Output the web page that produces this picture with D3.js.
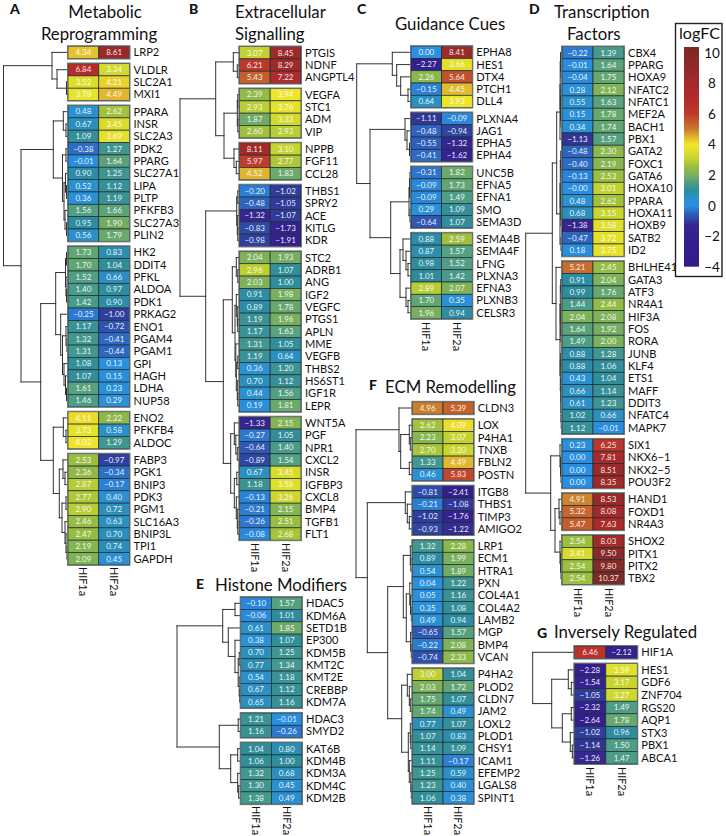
<!DOCTYPE html>
<html><head><meta charset="utf-8">
<script src="https://cdn.jsdelivr.net/npm/d3@7"></script>
<style>html,body{margin:0;padding:0;background:#fff}svg{display:block}</style>
</head><body><svg id="c" width="726" height="836"></svg>
<script>
// ---------- data: one set of small arrays per panel ----------
const genesA=["LRP2","VLDLR","SLC2A1","MXI1","PPARA","INSR","SLC2A3","PDK2","PPARG","SLC27A1","LIPA","PLTP","PFKFB3","SLC27A3","PLIN2","HK2","DDIT4","PFKL","ALDOA","PDK1","PRKAG2","ENO1","PGAM4","PGAM1","GPI","HAGH","LDHA","NUP58","ENO2","PFKFB4","ALDOC","FABP3","PGK1","BNIP3","PDK3","PGM1","SLC16A3","BNIP3L","TPI1","GAPDH"];
const hif1A=[4.34,6.84,3.52,3.78,0.48,0.67,1.09,-0.38,-0.01,0.90,0.52,0.36,1.56,0.95,0.56,1.73,1.70,1.52,1.40,1.42,-0.25,1.17,1.32,1.31,1.08,1.07,1.61,1.46,4.11,3.73,4.02,2.53,2.36,2.87,2.77,2.90,2.46,2.47,2.19,2.09];
const hif2A=[8.61,3.34,4.21,4.49,2.62,3.45,3.69,1.27,1.64,1.25,1.12,1.19,1.66,1.90,1.79,0.83,1.04,0.66,0.97,0.90,-1.00,-0.72,-0.41,-0.44,0.13,0.15,0.23,0.29,2.32,0.58,1.29,-0.97,-0.34,-0.17,0.40,0.72,0.63,0.70,0.74,0.45];
const groupsA=[1,3,11,13,3,9];
const treeA=[64.5,[16,0,[11,1,[1.5,2,3]]],[47,[14.7,[4.7,4,[2,5,6]],[5.5,[2,7,8],[4,[2.5,9,[1.5,10,11]],[3,12,[1.5,13,14]]]]],[27.3,[12.3,[2.5,[1.5,15,16],[2,17,[1.5,18,19]]],[7.3,20,[5.5,[2,21,[1,22,23]],[4,24,[2.5,25,[1.5,26,27]]]]]],[14.7,[4.7,28,[2,29,30]],[8.7,[5,31,[3,32,33]],[6,[2,34,35],[3,36,[2,37,[1,38,39]]]]]]]]];

const genesB=["PTGIS","NDNF","ANGPTL4","VEGFA","STC1","ADM","VIP","NPPB","FGF11","CCL28","THBS1","SPRY2","ACE","KITLG","KDR","STC2","ADRB1","ANG","IGF2","VEGFC","PTGS1","APLN","MME","VEGFB","THBS2","HS6ST1","IGF1R","LEPR","WNT5A","PGF","NPR1","CXCL2","INSR","IGFBP3","CXCL8","BMP4","TGFB1","FLT1"];
const hif1B=[3.07,6.21,5.43,2.39,2.93,1.87,2.60,8.11,5.97,4.52,-0.20,-0.48,-1.32,-0.83,-0.98,2.04,2.96,2.03,0.91,0.89,1.19,1.17,1.31,1.19,0.36,0.70,0.44,0.19,-1.33,-0.27,-0.64,-0.89,0.67,1.18,-0.13,-0.21,-0.26,-0.08];
const hif2B=[8.45,8.29,7.22,3.94,3.76,3.33,2.93,3.10,2.77,1.83,-1.02,-1.05,-1.07,-1.73,-1.91,1.93,1.07,1.00,1.98,1.78,1.96,1.63,1.05,0.64,1.20,1.12,1.56,1.81,2.15,1.05,1.40,1.54,3.45,3.58,3.26,2.15,2.51,2.68];
const groupsB=[3,4,3,5,13,10];
const treeB=[59.3,[23.6,[6,0,[2,1,2]],[15.3,[2,[1.5,3,4],[1.5,5,6]],[5.3,7,[3,8,9]]]],[33.6,[2.6,[1.5,10,11],[2,12,[1.5,13,14]]],[16,[7,[3,15,[1.5,16,17]],[4.3,[3,18,[2,19,[1.5,20,21]]],[3.5,22,[3,[1.5,23,24],[2,25,[1.5,26,27]]]]]],[8.6,[5,28,[3.5,29,[2,30,31]]],[5,[2.5,32,33],[3,34,[2,35,[1.5,36,37]]]]]]]];

const genesC=["EPHA8","HES1","DTX4","PTCH1","DLL4","PLXNA4","JAG1","EPHA5","EPHA4","UNC5B","EFNA5","EFNA1","SMO","SEMA3D","SEMA4B","SEMA4F","LFNG","PLXNA3","EFNA3","PLXNB3","CELSR3"];
const hif1C=[0.00,-2.27,2.26,-0.15,0.64,-1.11,-0.48,-0.55,-0.41,-0.31,-0.09,-0.09,0.29,-0.64,0.88,0.87,0.98,1.01,2.89,1.70,1.96];
const hif2C=[8.41,3.66,5.64,4.45,3.93,-0.09,-0.94,-1.32,-1.62,1.82,1.73,1.49,1.09,1.07,2.59,1.57,1.52,1.42,2.07,0.35,0.94];
const groupsC=[5,4,5,7];
const treeC=[54.3,[18.7,0,[14.3,1,[10.3,2,[3,3,4]]]],[41,[6,5,[4,6,[1.5,7,8]]],[20.3,[2,[1.5,[1,9,10],11],[1,12,13]],[11,[8,14,[5,15,[3,16,17]]],[5,18,[3,19,20]]]]]];

const genesD=["CBX4","PPARG","HOXA9","NFATC2","NFATC1","MEF2A","BACH1","PBX1","GATA2","FOXC1","GATA6","HOXA10","PPARA","HOXA11","HOXB9","SATB2","ID2","BHLHE41","GATA3","ATF3","NR4A1","HIF3A","FOS","RORA","JUNB","KLF4","ETS1","MAFF","DDIT3","NFATC4","MAPK7","SIX1","NKX6−1","NKX2−5","POU3F2","HAND1","FOXD1","NR4A3","SHOX2","PITX1","PITX2","TBX2"];
const hif1D=[-0.22,-0.01,-0.04,0.28,0.55,0.15,0.34,-1.13,-0.48,-0.40,-0.13,-0.00,0.48,0.68,-1.38,-0.47,0.18,5.21,0.91,0.99,1.44,2.04,1.64,1.49,0.88,0.88,0.43,0.66,0.61,1.02,1.12,0.23,0.00,0.00,0.00,4.91,5.32,5.47,2.54,3.41,2.54,2.54];
const hif2D=[1.39,1.64,1.75,2.12,1.63,1.78,1.74,1.57,2.30,2.19,2.53,3.01,2.62,3.15,3.58,3.72,3.75,2.45,2.04,1.76,2.44,2.08,1.92,2.00,1.28,1.06,1.04,1.14,1.23,0.66,-0.01,6.25,7.81,8.51,8.35,8.53,8.08,7.63,8.03,9.50,9.80,10.37];
const groupsD=[17,14,4,3,4];
const treeD=[36.3,[9.7,[5.3,[2,[1.8,[1.5,0,[1,1,2]],[1.5,[1,3,4],[1,5,6]]],7],[2,[1.7,[1.3,8,[1,9,10]],[1.3,[1,11,12],[1,13,14]]],[1,15,16]]],[6,17,[2,[1.7,[1.3,18,19],[1.3,[1,20,21],[1,22,23]]],[1.7,[1.3,24,25],[1.3,26,[1,27,[1,28,[0.8,29,30]]]]]]]],[11.3,[2,31,[1.5,32,[1,33,34]]],[7,[3,35,[2,36,37]],[2,38,[1.5,39,[1,40,41]]]]]];

const genesE=["HDAC5","KDM6A","SETD1B","EP300","KDM5B","KMT2C","KMT2E","CREBBP","KDM7A","HDAC3","SMYD2","KAT6B","KDM4B","KDM3A","KDM4C","KDM2B"];
const hif1E=[-0.10,-0.06,0.61,0.38,0.70,0.77,0.54,0.67,0.65,1.21,1.16,1.04,1.06,1.32,1.30,1.38];
const hif2E=[1.57,1.01,1.85,1.07,1.25,1.34,1.18,1.12,1.16,-0.01,-0.26,0.80,1.00,0.68,0.45,0.49];
const groupsE=[9,2,5];
const treeE=[63.7,[18,[5.7,0,1],[12.4,2,[5.7,3,[2.5,[1.5,4,5],[1.5,6,[1,7,8]]]]]],[21.4,[2.5,9,10],[10,[3,11,12],[3,13,[2,14,15]]]]];

const genesF=["CLDN3","LOX","P4HA1","TNXB","FBLN2","POSTN","ITGB8","THBS1","TIMP3","AMIGO2","LRP1","ECM1","HTRA1","PXN","COL4A1","COL4A2","LAMB2","MGP","BMP4","VCAN","P4HA2","PLOD2","CLDN7","JAM2","LOXL2","PLOD1","CHSY1","ICAM1","EFEMP2","LGALS8","SPINT1"];
const hif1F=[4.96,2.62,2.23,2.70,1.33,0.46,-0.81,-0.21,-1.02,-0.93,1.32,0.89,0.54,0.04,0.05,0.35,0.49,-0.65,-0.22,-0.74,3.00,2.03,1.75,1.74,0.77,1.07,1.14,1.11,1.25,1.23,1.06];
const hif2F=[5.39,4.09,3.07,3.20,4.49,5.83,-2.41,-1.08,-1.76,-1.22,2.28,1.99,1.89,1.22,1.16,1.08,0.94,1.57,2.08,2.33,1.04,1.72,1.07,0.49,1.07,0.83,1.09,-0.17,0.59,0.40,0.38];
const groupsF=[1,5,4,10,11];
const treeF=[56.3,[13.3,0,[11.6,[3,1,[2,2,3]],[3,4,5]]],[45,[7,6,[5,7,[3,8,9]]],[24.6,[9,[2,10,[1.5,11,12]],[6,[2.5,13,[1.8,14,[1,15,16]]],[1.7,17,[1,18,19]]]],[10.6,[5,20,[3,21,[2,22,23]]],[4,[2,24,[1.5,25,26]],[3,27,[1.5,28,[1,29,30]]]]]]]];

const genesG=["HIF1A","HES1","GDF6","ZNF704","RGS20","AQP1","STX3","PBX1","ABCA1"];
const hif1G=[6.46,-2.28,-1.54,-1.05,-2.32,-2.64,-1.02,-1.14,-1.26];
const hif2G=[-2.12,3.59,3.17,3.27,1.49,1.78,0.96,1.50,1.47];
const groupsG=[1,8];
const treeG=[41.6,0,[22.6,[6,1,[3,2,3]],[12,[3,4,5],[4,6,[2,7,8]]]]];

const conditions=["HIF1a","HIF2a"];
const legendTicks=[-4,-2,0,2,4,6,8,10];
const colorStops=[-4,-2,-1.3,-1,-0.5,0,0.5,1,1.5,2,2.5,3,3.5,4,4.5,5,5.5,6,7,8,9,10.4];
const colorValues=["#35198c","#34208e","#36268f","#2f3f9c","#2f62bd","#2a8fe0","#2b90d0","#2e8c9c","#4f9d86","#7bb05c","#98bd42","#c0d032","#dcdd2c","#f0e62a","#e0b62e","#c87a2e","#c45c2c","#bf3a2c","#b32b2b","#a52a2a","#92292a","#7a2a26"];

// ---------- layout ----------
const FONT="Lato, 'Open Sans', sans-serif";
const panels=[
 {letter:"A",genes:genesA,h1:hif1A,h2:hif2A,groups:groupsA,tree:treeA,x0:68,x1:129.5,y0:52.4,y1:558.7,axisY:567,lx:10,ly:14,
  titles:[["Metabolic",105,18,"middle"],["Reprogramming",99,39.5,"middle"]]},
 {letter:"B",genes:genesB,h1:hif1B,h2:hif2B,groups:groupsB,tree:treeB,x0:239.3,x1:301,y0:52.7,y1:534,axisY:543,lx:189,ly:14,
  titles:[["Extracellular",235,18,"start"],["Signalling",235,39.5,"start"]]},
 {letter:"C",genes:genesC,h1:hif1C,h2:hif2C,groups:groupsC,tree:treeC,x0:411,x1:472.3,y0:52.3,y1:312.7,axisY:322,lx:357,ly:14,
  titles:[["Guidance Cues",395,30,"start"]]},
 {letter:"D",genes:genesD,h1:hif1D,h2:hif2D,groups:groupsD,tree:treeD,x0:562,x1:624,y0:52.7,y1:578.3,axisY:588,lx:529,ly:14,
  titles:[["Transcription",554,18,"start"],["Factors",567,39.5,"start"]]},
 {letter:"E",genes:genesE,h1:hif1E,h2:hif2E,groups:groupsE,tree:treeE,x0:240.7,x1:302,y0:603.3,y1:798,axisY:806,lx:196,ly:589,
  titles:[["Histone Modifiers",215,591,"start"]]},
 {letter:"F",genes:genesF,h1:hif1F,h2:hif2F,groups:groupsF,tree:treeF,x0:412.3,x1:473.7,y0:408,y1:797.7,axisY:806,lx:369,ly:390,
  titles:[["ECM Remodelling",385,393,"start"]]},
 {letter:"G",genes:genesG,h1:hif1G,h2:hif2G,groups:groupsG,tree:treeG,x0:574.3,x1:637.3,y0:652.3,y1:757.7,axisY:767,lx:537,ly:638,
  titles:[["Inversely Regulated",554,638,"start"]]}
];
const GAP=0.4;
const color=d3.scaleLinear().domain(colorStops).range(colorValues).interpolate(d3.interpolateRgb).clamp(true);
const fmt=v=>((v<0||Object.is(v,-0))?"−":"")+Math.abs(v).toFixed(2);
const svg=d3.select("#c");

panels.forEach(p=>{
  const g=svg.append("g");
  // row positions
  const units=[];let u=0;
  p.groups.forEach(n=>{for(let i=0;i<n;i++){units.push(u);u+=1;} u+=GAP;});
  const yS=d3.scaleLinear().domain([0,units[units.length-1]]).range([p.y0,p.y1]);
  const rowY=i=>yS(units[i]);
  const rh=yS(1)-yS(0);
  const xS=d3.scaleBand().domain(conditions).range([p.x0,p.x1]);

  // dendrogram
  const dx=d3.scaleLinear().domain([0,p.tree[0]]).range([p.x0,p.x0-p.tree[0]]);
  const segs=[];
  const walk=n=>{
    if(typeof n==="number") return {x:dx(0),y:rowY(n)};
    const a=walk(n[1]),b=walk(n[2]),x=dx(n[0]);
    segs.push([a.x,a.y,x,a.y],[b.x,b.y,x,b.y],[x,a.y,x,b.y]);
    return {x,y:(a.y+b.y)/2};
  };
  walk(p.tree);
  g.append("g").selectAll("line").data(segs).join("line")
    .attr("x1",d=>d[0]).attr("y1",d=>d[1]).attr("x2",d=>d[2]).attr("y2",d=>d[3])
    .attr("stroke","#333").attr("stroke-width",1).attr("stroke-linecap","square");

  // cells
  const rows=p.genes.map((gene,i)=>({gene,i,vals:[p.h1[i],p.h2[i]]}));
  const cells=rows.flatMap(r=>r.vals.map((v,k)=>({v,k,i:r.i})));
  g.append("g").selectAll("rect").data(cells).join("rect")
    .attr("x",d=>xS(conditions[d.k])).attr("y",d=>rowY(d.i)-rh/2)
    .attr("width",xS.bandwidth()).attr("height",rh)
    .attr("fill",d=>color(d.v)).attr("stroke","#1d2b30").attr("stroke-width",0.7);
  g.append("g").selectAll("text").data(cells).join("text")
    .attr("x",d=>xS(conditions[d.k])+xS.bandwidth()/2).attr("y",d=>rowY(d.i)+2.8)
    .attr("text-anchor","middle").attr("fill","#fff").attr("fill-opacity",0.92)
    .attr("font-family",FONT).attr("font-size",8).text(d=>fmt(d.v));

  // group frames
  let start=0;const frames=p.groups.map(n=>{const f=[start,start+n-1];start+=n;return f;});
  g.append("g").selectAll("rect").data(frames).join("rect")
    .attr("x",p.x0-0.5).attr("y",d=>rowY(d[0])-rh/2-0.5)
    .attr("width",p.x1-p.x0+1).attr("height",d=>rowY(d[1])-rowY(d[0])+rh+1)
    .attr("fill","none").attr("stroke","#6f7675").attr("stroke-width",1);

  // gene labels
  g.append("g").selectAll("text").data(rows).join("text")
    .attr("x",p.x1+4).attr("y",d=>rowY(d.i)+4)
    .attr("font-family",FONT).attr("font-size",11.1).attr("fill","#111").text(d=>d.gene);

  // column labels
  g.append("g").selectAll("text").data(conditions).join("text")
    .attr("transform",d=>`translate(${xS(d)+xS.bandwidth()/2-4},${p.axisY}) rotate(90)`)
    .attr("font-family",FONT).attr("font-size",10.8).attr("fill","#111").text(d=>d);

  // titles
  g.append("g").selectAll("text").data(p.titles).join("text")
    .attr("x",d=>d[1]).attr("y",d=>d[2]).attr("text-anchor",d=>d[3])
    .attr("font-family",FONT).attr("font-size",16.8).attr("fill","#111").text(d=>d[0]);
  g.append("text").attr("x",p.lx).attr("y",p.ly).attr("font-family",FONT)
    .attr("font-weight",900).attr("font-size",14).attr("fill","#111").text(p.letter);
});

// legend
const lg=svg.append("g");
lg.append("rect").attr("x",675.5).attr("y",23.5).attr("width",46.5).attr("height",253)
  .attr("fill","#fff").attr("stroke","#222").attr("stroke-width",1.4);
lg.append("text").attr("x",699.5).attr("y",38.5).attr("text-anchor","middle")
  .attr("font-family",FONT).attr("font-size",16.2).attr("fill","#111").text("logFC");
const cy=d3.scaleLinear().domain([-4,10.4]).range([266.7,47]);
const defs=svg.append("defs");
const grad=defs.append("linearGradient").attr("id","lg").attr("x1",0).attr("x2",0).attr("y1",1).attr("y2",0);
grad.selectAll("stop").data(colorStops).join("stop")
  .attr("offset",d=>(d-cy.domain()[0])/(cy.domain()[1]-cy.domain()[0]))
  .attr("stop-color",d=>color(d));
lg.append("rect").attr("x",684).attr("y",cy(10.4)).attr("width",15).attr("height",cy(-4)-cy(10.4)).attr("fill","url(#lg)");
const ax=lg.append("g").attr("transform","translate(712,0)")
  .call(d3.axisRight(cy).tickValues(legendTicks).tickSize(0).tickPadding(0));
ax.select(".domain").remove();
ax.selectAll("text").attr("text-anchor","middle").attr("font-family",FONT).attr("font-size",13.5).attr("fill","#111");
</script></body></html>
